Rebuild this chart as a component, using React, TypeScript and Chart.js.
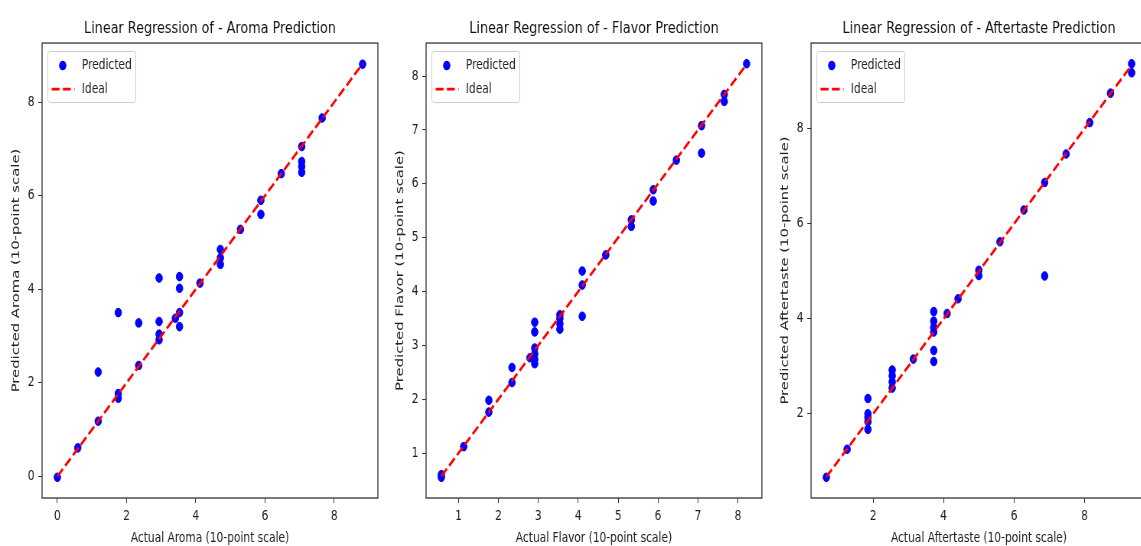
import React, { useEffect, useRef } from 'react';
import { Chart, registerables } from 'chart.js';

Chart.register(...registerables);

const FONT = 'DejaVu Sans';
// The figure is laid out on a wider drawing surface and squeezed horizontally on screen.
const X_SQUEEZE = 0.765;
const CANVAS_W = 502;
const CANVAS_H = 546;
const PANEL_STEP = 502.5;

// Aroma
const aromaActual = [0, 0.59, 1.18, 1.18, 1.76, 1.76, 1.76, 2.35, 2.35, 2.94, 2.94, 2.94, 2.94, 3.41, 3.53, 3.53, 3.53, 3.53, 4.12, 4.71, 4.71, 4.71, 5.29, 5.88, 5.88, 6.47, 7.06, 7.06, 7.06, 7.06, 7.65, 8.82];
const aromaPredicted = [-0.02, 0.61, 1.18, 2.23, 1.77, 1.67, 3.5, 2.37, 3.28, 2.92, 3.04, 3.31, 4.24, 3.38, 3.5, 3.2, 4.02, 4.27, 4.13, 4.53, 4.67, 4.85, 5.28, 5.9, 5.6, 6.47, 7.05, 6.73, 6.62, 6.5, 7.66, 8.81];
const aromaXTicks = [0, 2, 4, 6, 8];
const aromaYTicks = [0, 2, 4, 6, 8];

// Flavor
const flavorActual = [0.57, 0.57, 1.13, 1.76, 1.76, 2.34, 2.34, 2.79, 2.91, 2.91, 2.91, 2.91, 2.91, 2.91, 3.54, 3.54, 3.54, 3.54, 4.1, 4.1, 4.1, 4.69, 5.33, 5.33, 5.88, 5.88, 6.46, 7.09, 7.09, 7.66, 7.66, 8.22];
const flavorPredicted = [0.55, 0.6, 1.12, 1.76, 1.98, 2.31, 2.59, 2.77, 2.66, 2.74, 2.84, 2.95, 3.25, 3.43, 3.3, 3.4, 3.5, 3.57, 3.54, 4.12, 4.38, 4.68, 5.21, 5.33, 5.68, 5.89, 6.44, 6.57, 7.08, 7.53, 7.66, 8.23];
const flavorXTicks = [1, 2, 3, 4, 5, 6, 7, 8];
const flavorYTicks = [1, 2, 3, 4, 5, 6, 7, 8];

// Aftertaste
const aftertasteActual = [0.67, 1.26, 1.85, 1.85, 1.85, 1.85, 1.85, 2.54, 2.54, 2.54, 2.54, 3.14, 3.72, 3.72, 3.72, 3.72, 3.72, 3.72, 4.1, 4.41, 5.0, 5.0, 5.6, 6.28, 6.87, 6.87, 7.48, 8.15, 8.74, 9.34, 9.34];
const aftertastePredicted = [0.66, 1.25, 1.67, 1.83, 1.92, 2.0, 2.32, 2.54, 2.67, 2.8, 2.92, 3.15, 3.1, 3.33, 3.72, 3.82, 3.95, 4.15, 4.11, 4.42, 4.91, 5.02, 5.62, 6.29, 4.9, 6.87, 7.47, 8.13, 8.75, 9.18, 9.37];
const aftertasteXTicks = [2, 4, 6, 8];
const aftertasteYTicks = [2, 4, 6, 8];

const panels = [
  { name: 'Aroma', actual: aromaActual, predicted: aromaPredicted, xTicks: aromaXTicks, yTicks: aromaYTicks },
  { name: 'Flavor', actual: flavorActual, predicted: flavorPredicted, xTicks: flavorXTicks, yTicks: flavorYTicks },
  { name: 'Aftertaste', actual: aftertasteActual, predicted: aftertastePredicted, xTicks: aftertasteXTicks, yTicks: aftertasteYTicks },
];

const TEXT = '#222222';

function paddedRange(values: number[]) {
  const lo = Math.min(...values);
  const hi = Math.max(...values);
  const m = (hi - lo) * 0.05;
  return [lo - m, hi + m];
}

// Frame around the plot area plus an inset legend in the upper left corner.
const frameAndLegend = {
  id: 'frameAndLegend',
  afterDraw(chart: any) {
    const { ctx, chartArea } = chart;
    const { left, top, right, bottom } = chartArea;
    ctx.save();
    ctx.strokeStyle = '#333333';
    ctx.lineWidth = 1.3;
    ctx.strokeRect(left, top, right - left, bottom - top);

    const bx = left + 7.5;
    const by = top + 8.5;
    const bw = 115;
    const bh = 51;
    ctx.beginPath();
    ctx.roundRect(bx, by, bw, bh, 3);
    ctx.fillStyle = 'rgba(255,255,255,0.8)';
    ctx.fill();
    ctx.strokeStyle = '#cccccc';
    ctx.lineWidth = 1;
    ctx.stroke();

    const [pred, ideal] = chart.data.datasets;
    ctx.beginPath();
    ctx.arc(bx + 19.5, by + 14, 4.8, 0, Math.PI * 2);
    ctx.fillStyle = pred.backgroundColor;
    ctx.fill();

    ctx.beginPath();
    ctx.setLineDash(ideal.borderDash);
    ctx.moveTo(bx + 5, by + 37.5);
    ctx.lineTo(bx + 35, by + 37.5);
    ctx.strokeStyle = ideal.borderColor;
    ctx.lineWidth = ideal.borderWidth;
    ctx.stroke();
    ctx.setLineDash([]);

    ctx.font = `13.9px "${FONT}"`;
    ctx.fillStyle = TEXT;
    ctx.textAlign = 'left';
    ctx.textBaseline = 'middle';
    ctx.fillText(pred.label, bx + 44.5, by + 14);
    ctx.fillText(ideal.label, bx + 44.5, by + 38);
    ctx.restore();
  },
};

function buildConfig(p: (typeof panels)[number]): any {
  const lo = Math.min(...p.actual);
  const hi = Math.max(...p.actual);
  const [xMin, xMax] = paddedRange(p.actual);
  const [yMin, yMax] = paddedRange([...p.predicted, lo, hi]);
  const tickFont = { family: FONT, size: 13.9 };
  return {
    type: 'scatter',
    data: {
      datasets: [
        {
          label: 'Predicted',
          data: p.actual.map((x, i) => ({ x, y: p.predicted[i] })),
          backgroundColor: '#0000ff',
          borderColor: '#0000ff',
          borderWidth: 1,
          pointRadius: 4.3,
          order: 1,
        },
        {
          label: 'Ideal',
          data: [{ x: lo, y: lo }, { x: hi, y: hi }],
          showLine: true,
          borderColor: '#ff0000',
          backgroundColor: '#ff0000',
          borderWidth: 2.8,
          borderDash: [10.3, 4.4],
          pointRadius: 0,
          order: 0,
        },
      ],
    },
    options: {
      animation: false,
      responsive: false,
      devicePixelRatio: 1,
      events: [],
      layout: { padding: { top: 19, left: 0, right: 8, bottom: 0 } },
      plugins: {
        legend: { display: false },
        tooltip: { enabled: false },
        title: {
          display: true,
          fullSize: false,
          text: `Linear Regression of - ${p.name} Prediction`,
          color: '#111111',
          font: { family: FONT, size: 16.7, weight: 'normal' },
          padding: { top: 0, bottom: 4 },
        },
      },
      scales: {
        x: {
          type: 'linear',
          position: 'bottom',
          min: xMin,
          max: xMax,
          afterBuildTicks: (s: any) => { s.ticks = p.xTicks.map((v) => ({ value: v })); },
          afterFit: (s: any) => { s.height = 48; },
          border: { display: false },
          grid: { drawOnChartArea: false, drawTicks: true, tickLength: 5, color: '#333333', lineWidth: 1 },
          ticks: { padding: 5, color: TEXT, font: tickFont, maxRotation: 0, autoSkip: false, callback: (v: any) => String(v) },
          title: { display: true, text: `Actual ${p.name} (10-point scale)`, color: TEXT, font: tickFont, padding: { top: 0, bottom: -1 } },
        },
        y: {
          type: 'linear',
          position: 'left',
          min: yMin,
          max: yMax,
          afterBuildTicks: (s: any) => { s.ticks = p.yTicks.map((v) => ({ value: v })); },
          afterFit: (s: any) => { s.width = 55; },
          border: { display: false },
          grid: { drawOnChartArea: false, drawTicks: true, tickLength: 5, color: '#333333', lineWidth: 1 },
          ticks: { padding: 5, color: TEXT, font: tickFont, autoSkip: false, callback: (v: any) => String(v) },
          title: { display: true, text: `Predicted ${p.name} (10-point scale)`, color: TEXT, font: { family: FONT, size: 14.8 }, padding: { top: 12.5, bottom: 0 } },
        },
      },
    },
    plugins: [frameAndLegend],
  };
}

export default function App() {
  const r0 = useRef<HTMLCanvasElement>(null);
  const r1 = useRef<HTMLCanvasElement>(null);
  const r2 = useRef<HTMLCanvasElement>(null);
  const refs = [r0, r1, r2];

  useEffect(() => {
    const charts = panels.map((p, i) => new Chart(refs[i].current as HTMLCanvasElement, buildConfig(p)));
    return () => charts.forEach((c) => c.destroy());
  }, []);

  return (
    <div style={{ position: 'absolute', left: 0, top: 0, width: 1141, height: 546, overflow: 'hidden', background: '#ffffff' }}>
      {panels.map((p, i) => (
        <canvas
          key={p.name}
          ref={refs[i]}
          width={CANVAS_W}
          height={CANVAS_H}
          style={{ position: 'absolute', left: i * PANEL_STEP * X_SQUEEZE, top: 0, width: CANVAS_W * X_SQUEEZE, height: CANVAS_H }}
        />
      ))}
    </div>
  );
}
